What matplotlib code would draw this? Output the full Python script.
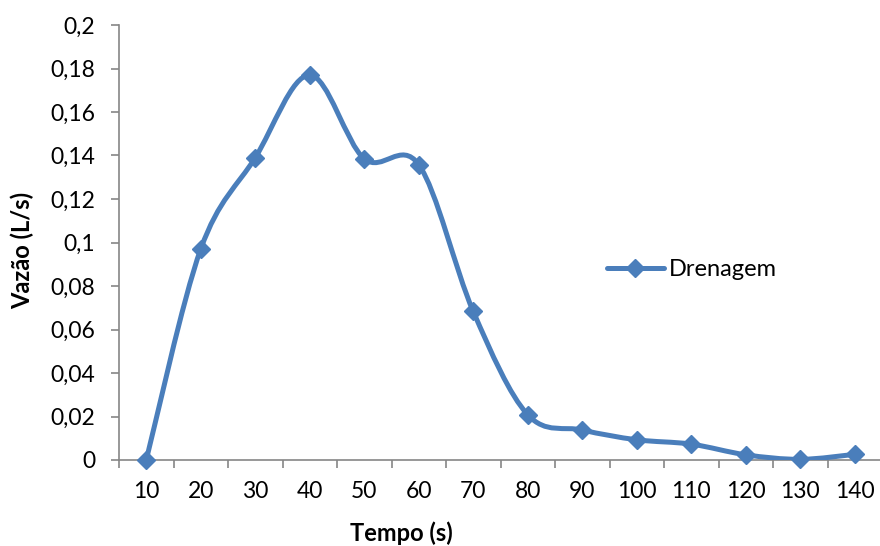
import numpy as np
import matplotlib
matplotlib.use('Agg')
import matplotlib.pyplot as plt
from matplotlib.path import Path
from matplotlib.patches import PathPatch
from matplotlib.lines import Line2D
from matplotlib.ticker import FixedLocator, FuncFormatter

# data
tempo = ['10', '20', '30', '40', '50', '60', '70', '80', '90', '100', '110', '120', '130', '140']
vazao = [0.0, 0.097, 0.139, 0.177, 0.1385, 0.1358, 0.0683, 0.0208, 0.0138,
         0.0093, 0.0073, 0.0024, 0.0003, 0.0026]

blue = '#4A7EBB'
grey = '#868686'
plt.rcParams['font.family'] = ['Lato', 'DejaVu Sans']

def smooth_path(xs, ys):
    # excel style smoothed line: catmull-rom segments as cubic bezier
    pts = np.column_stack([xs, ys]).astype(float)
    n = len(pts)
    verts = [pts[0]]
    codes = [Path.MOVETO]
    for i in range(n - 1):
        p0 = pts[i - 1] if i > 0 else pts[i]
        p1 = pts[i]
        p2 = pts[i + 1]
        p3 = pts[i + 2] if i + 2 < n else pts[i + 1]
        c1 = p1 + (p2 - p0) / 6.0
        c2 = p2 - (p3 - p1) / 6.0
        verts += [c1, c2, p2]
        codes += [Path.CURVE4] * 3
    return Path(verts, codes)

fig = plt.figure(figsize=(8.8, 5.46), dpi=100)
ax = fig.add_axes([119 / 880, 86 / 546, 763 / 880, 435 / 546])

x = np.arange(len(tempo))
patch = PathPatch(smooth_path(x, vazao), facecolor='none', edgecolor=blue,
                  lw=3.6, capstyle='round', joinstyle='round', zorder=3)
ax.add_patch(patch)
ax.plot(x, vazao, linestyle='none', marker='D', ms=9.5, color=blue,
        clip_on=False, zorder=4)

ax.set_xlim(-0.5, len(tempo) - 0.5)
ax.set_ylim(0, 0.2)

ax.xaxis.set_major_locator(FixedLocator(np.arange(-0.5, len(tempo), 1.0)))
ax.xaxis.set_major_formatter(FuncFormatter(lambda v, p: ''))
ax.xaxis.set_minor_locator(FixedLocator(x))
ax.set_xticklabels(tempo, minor=True)
ax.tick_params(axis='x', which='major', direction='out', length=6, width=1.2, color=grey)
ax.tick_params(axis='x', which='minor', length=0, pad=15, labelsize=16.5)

ax.set_yticks(np.arange(0, 0.2001, 0.02))
ax.yaxis.set_major_formatter(FuncFormatter(lambda v, p: f'{v:g}'.replace('.', ',')))
ax.tick_params(axis='y', direction='out', length=6, width=1.2, color=grey,
               pad=11, labelsize=16.5)

for s in ['top', 'right']:
    ax.spines[s].set_visible(False)
for s in ['left', 'bottom']:
    ax.spines[s].set_color(grey)
    ax.spines[s].set_linewidth(1.2)

fig.text(401 / 880, 1 - 533 / 546, 'Tempo (s)', ha='center', va='center',
         fontsize=17, fontweight='bold')
fig.text(22 / 880, 1 - 250 / 546, 'Vazão (L/s)', ha='center', va='center',
         rotation=90, fontsize=17, fontweight='bold')

handle = Line2D([], [], color=blue, lw=3.6, marker='D', ms=9.5, solid_capstyle='round')
fig.legend([handle], ['Drenagem'], loc='center left', frameon=False,
           bbox_to_anchor=(607 / 880, 1 - 270 / 546), borderpad=0,
           borderaxespad=0, handlelength=2.4, handletextpad=0.2, fontsize=17)

fig.savefig('out.png', dpi=100)
